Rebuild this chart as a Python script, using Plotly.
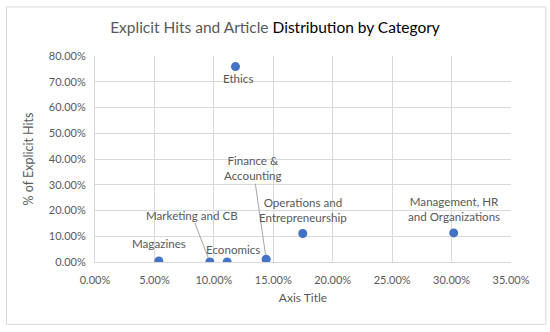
import plotly.graph_objects as go

categories = ["Ethics", "Magazines", "Marketing and CB", "Economics",
              "Finance &<br>Accounting", "Operations and<br>Entrepreneurship",
              "Management, HR<br>and Organizations"]
article_share = [0.1182, 0.0537, 0.0966, 0.1112, 0.1440, 0.1748, 0.3018]
explicit_hits = [0.759, 0.004, 0.000, 0.000, 0.0105, 0.1105, 0.113]

x_ticks = [0, 0.05, 0.10, 0.15, 0.20, 0.25, 0.30, 0.35]
y_ticks = [0, 0.1, 0.2, 0.3, 0.4, 0.5, 0.6, 0.7, 0.8]

# label offsets in pixels (dx, dy downward) and whether a leader line is drawn
label_offsets = [(3, 12, False), (0, -17, False), (-18, -47, True), (6, -13, False),
                 (-13, -91, True), (0, -24, False), (0, -24, False)]

FONT = "Lato"
GRAY = "#595959"

fig = go.Figure()
fig.add_trace(go.Scatter(
    x=article_share, y=explicit_hits, mode="markers",
    marker=dict(color="#4472C4", size=9),
    hoverinfo="skip", showlegend=False))

for cat, xv, yv, (dx, dy, line) in zip(categories, article_share, explicit_hits, label_offsets):
    if line:
        fig.add_annotation(x=xv, y=yv, text=cat, showarrow=True, ax=dx, ay=dy,
                           arrowhead=0, arrowwidth=1, arrowcolor="#a6a6a6", standoff=4,
                           font=dict(family=FONT, size=11.6, color=GRAY))
    else:
        fig.add_annotation(x=xv, y=yv, text=cat, showarrow=False,
                           xshift=dx, yshift=-dy,
                           font=dict(family=FONT, size=11.6, color=GRAY))

L, R, T, B = 94.5, 39.3, 56, 70.3
W, H = 550, 332
pw, ph = W - L - R, H - T - B
fig.add_shape(type="rect", xref="paper", yref="paper",
              x0=(6 - L) / pw, x1=(545.5 - L) / pw,
              y0=(H - B - 324) / ph, y1=(H - B - 7) / ph,
              line=dict(color="#d9d9d9", width=1), fillcolor="rgba(0,0,0,0)", layer="below")

fig.update_layout(
    width=W, height=H,
    margin=dict(l=L, r=R, t=T, b=B),
    paper_bgcolor="white", plot_bgcolor="white",
    title=dict(text='<span style="color:#595959">Explicit Hits and Article </span>'
                    '<span style="color:#000000">Distribution by Category</span>',
               x=0.5, xanchor="center", y=1 - 28 / H, yanchor="middle",
               font=dict(family=FONT, size=15.5)),
    xaxis=dict(range=[0, 0.35], tickvals=x_ticks, tickformat=".2%",
               showgrid=True, gridcolor="#d9d9d9", zeroline=False,
               showline=True, linecolor="#d9d9d9", ticks="", ticklabelstandoff=8,
               tickfont=dict(family=FONT, size=11, color=GRAY),
               title=dict(text="Axis Title", font=dict(family=FONT, size=12, color=GRAY), standoff=8)),
    yaxis=dict(range=[0, 0.8], tickvals=y_ticks, tickformat=".2%",
               showgrid=True, gridcolor="#d9d9d9", zeroline=False,
               showline=True, linecolor="#d9d9d9", ticks="", ticklabelstandoff=6,
               tickfont=dict(family=FONT, size=11, color=GRAY),
               title=dict(text="% of Explicit Hits", font=dict(family=FONT, size=12.5, color=GRAY), standoff=12)),
)

fig.write_html("out.html", config={"displayModeBar": False},
               post_script="document.body.style.margin='0';")
